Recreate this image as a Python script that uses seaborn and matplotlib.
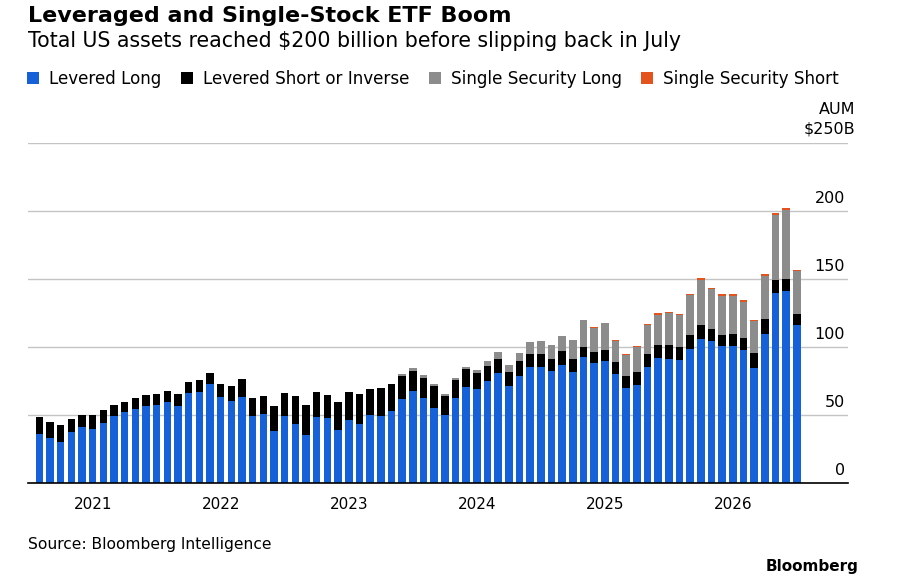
import pandas as pd
import matplotlib
matplotlib.use("Agg")
import matplotlib.pyplot as plt
from matplotlib.patches import Patch
import seaborn as sns

# Monthly AUM in $B, Aug 2020 - Jul 2026 (segments)
months = pd.period_range("2020-08", "2026-07", freq="M").strftime("%Y-%m")

levered_long = [36.3, 33.1, 30.4, 37.7, 41.4, 39.9, 44.6, 49.5, 52.4, 54.4, 56.8, 57.3,
                59.5, 56.6, 66.4, 67.4, 73.2, 63.7, 60.5, 63.7, 49.3, 51.2, 38.7, 49.7,
                43.6, 35.3, 48.5, 47.8, 39.4, 46.5, 43.6, 50.5, 49.7, 53.4, 62.0, 68.1,
                63.0, 55.6, 50.0, 62.5, 71.0, 69.6, 75.4, 81.3, 71.5, 79.1, 85.3, 85.5,
                82.7, 87.2, 82.1, 92.9, 88.7, 90.1, 80.4, 70.1, 72.3, 85.3, 91.9, 91.4,
                90.4, 98.6, 106.1, 104.6, 100.5, 101.0, 98.0, 85.0, 110.0, 139.9, 141.4, 116.4]

levered_short = [12.2, 12.2, 12.7, 9.8, 9.1, 10.1, 9.3, 8.1, 7.6, 8.1, 8.1, 8.1,
                 8.2, 9.3, 8.3, 8.8, 7.7, 9.5, 11.3, 12.8, 13.6, 13.2, 18.1, 16.9,
                 20.6, 22.3, 18.4, 17.1, 20.1, 20.4, 21.8, 19.1, 20.4, 19.4, 16.9, 14.7,
                 14.5, 15.9, 14.4, 13.7, 12.8, 11.5, 11.1, 10.1, 10.6, 10.6, 9.6, 9.4,
                 8.8, 9.8, 9.5, 7.1, 7.8, 8.1, 8.8, 9.0, 9.5, 10.0, 9.6, 10.3,
                 9.6, 10.5, 10.1, 8.9, 8.5, 8.6, 8.6, 10.6, 10.8, 9.6, 8.8, 8.3]

single_long = [0, 0, 0, 0, 0, 0, 0, 0, 0, 0, 0, 0,
               0, 0, 0, 0, 0, 0, 0, 0, 0, 0, 0, 0,
               0, 0, 0, 0, 0, 0, 0, 0, 0, 0.5, 1.5, 1.8,
               1.7, 1.3, 1.3, 1.4, 1.9, 2.0, 3.2, 5.4, 4.9, 6.3, 9.2, 9.7,
               10.3, 11.3, 13.5, 19.8, 17.5, 19.2, 15.7, 15.5, 18.4, 20.9, 22.5, 23.5,
               23.5, 29.0, 33.3, 28.9, 28.7, 28.1, 26.7, 23.5, 31.6, 47.8, 50.8, 31.2]

single_short = [0, 0, 0, 0, 0, 0, 0, 0, 0, 0, 0, 0,
                0, 0, 0, 0, 0, 0, 0, 0, 0, 0, 0, 0,
                0, 0, 0, 0, 0, 0, 0, 0, 0, 0, 0, 0,
                0, 0, 0, 0, 0, 0, 0, 0, 0, 0, 0, 0,
                0, 0, 0, 0.5, 0.7, 0.5, 0.7, 0.7, 0.7, 0.7, 1.0, 1.0,
                1.0, 1.1, 1.2, 1.2, 1.2, 1.2, 1.2, 1.2, 1.0, 1.0, 1.4, 0.9]

series_names = ["Levered Long", "Levered Short or Inverse", "Single Security Long", "Single Security Short"]
series_colors = ["#1660d8", "#000000", "#8c8c8c", "#e2531d"]
year_labels = ["2021", "2022", "2023", "2024", "2025", "2026"]
y_labels = [0, 50, 100, 150, 200]

df = pd.DataFrame({"month": months, "ll": levered_long, "ls": levered_short,
                   "sl": single_long, "ss": single_short})
# cumulative tops for the stacked look
df["top1"] = df["ll"]
df["top2"] = df["top1"] + df["ls"]
df["top3"] = df["top2"] + df["sl"]
df["top4"] = df["top3"] + df["ss"]

sns.set_style("white")
plt.rcParams["font.family"] = ["DejaVu Sans"]
plt.rcParams["text.color"] = "black"
plt.rcParams["xtick.color"] = "black"

W, H = 897, 583
fig = plt.figure(figsize=(W / 100, H / 100), dpi=100)
ax = fig.add_axes([28 / W, 1 - 483.3 / H, 820 / W, (483.3 - 143) / H])

# draw tallest stack first, then overlay the lower segments
for col, color in zip(["top4", "top3", "top2", "top1"], series_colors[::-1]):
    sns.barplot(data=df, x="month", y=col, color=color, saturation=1, width=0.7,
                errorbar=None, edgecolor="none", linewidth=0, ax=ax)

ax.set_xlim(-1.07, 75.8)
ax.set_ylim(0, 250)
ax.set_xlabel("")
ax.set_ylabel("")

# gridlines
ax.set_yticks([0, 50, 100, 150, 200, 250])
ax.tick_params(axis="y", left=False, right=False, labelleft=False)
ax.yaxis.grid(True, color="#c4c4c4", lw=1)
ax.set_axisbelow(True)

for s in ["top", "left", "right"]:
    ax.spines[s].set_visible(False)
ax.spines["bottom"].set_color("black")
ax.spines["bottom"].set_linewidth(1.2)

# x ticks: years (January bars) and quarters
year_pos = [5, 17, 29, 41, 53, 65]
ax.set_xticks(year_pos)
ax.set_xticklabels(year_labels, fontsize=11)
ax.set_xticks(list(range(2, 72, 3)), minor=True)
ax.tick_params(axis="x", which="major", direction="out", length=6, width=1, color="black", pad=4)
ax.tick_params(axis="x", which="minor", direction="out", length=4, width=1, color="black")

# right-side value labels sitting above gridlines
for v in y_labels:
    ax.annotate(str(v), xy=(1.0, v), xycoords=ax.get_yaxis_transform(),
                xytext=(-2, 6), textcoords="offset points",
                ha="right", va="baseline", fontsize=11.5)
ax.annotate("$250B", xy=(1.0, 250), xycoords=ax.get_yaxis_transform(),
            xytext=(5, 6.5), textcoords="offset points", ha="right", va="baseline", fontsize=11.5)
ax.annotate("AUM", xy=(1.0, 250), xycoords=ax.get_yaxis_transform(),
            xytext=(5, 21), textcoords="offset points", ha="right", va="baseline", fontsize=11.5)

fig.text(28 / W, 1 - 21.5 / H, "Leveraged and Single-Stock ETF Boom",
         fontsize=16, fontweight="bold", va="baseline")
fig.text(28 / W, 1 - 46.7 / H, "Total US assets reached $200 billion before slipping back in July",
         fontsize=14.8, va="baseline")

handles = [Patch(facecolor=c, edgecolor="none") for c in series_colors]
fig.legend(handles, series_names, loc="center left", bbox_to_anchor=(27 / W, 1 - 78.5 / H),
           ncol=4, frameon=False, fontsize=12.1, handlelength=0.72, handleheight=0.72,
           handletextpad=0.6, columnspacing=1.15, borderpad=0, borderaxespad=0)

fig.text(28 / W, 1 - 549 / H, "Source: Bloomberg Intelligence", fontsize=11.2, va="baseline")
fig.text(858 / W, 1 - 571 / H, "Bloomberg", fontsize=11, fontweight="bold", va="baseline", ha="right")

fig.savefig("out.png", dpi=100)
